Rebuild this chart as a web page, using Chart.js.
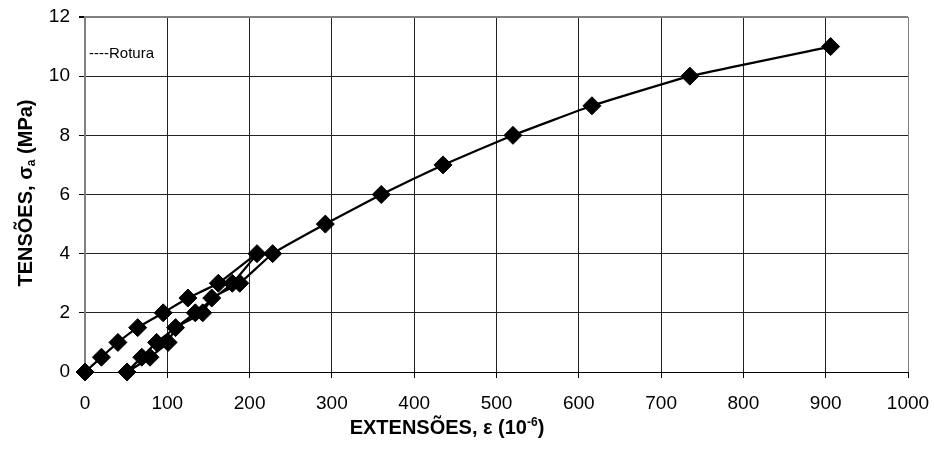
<!DOCTYPE html>
<html>
<head>
<meta charset="utf-8">
<script src="https://cdn.jsdelivr.net/npm/chart.js@4.4.0/dist/chart.umd.min.js"></script>
<style>
  html, body { margin: 0; padding: 0; background: #fff; }
  #wrap { width: 934px; height: 455px; position: relative; }
</style>
</head>
<body>
<div id="wrap"><canvas id="grafico"></canvas></div>
<script>
// Ensaio: carga, descarga e recarga até à rotura
const extensoes = [0, 20, 40, 64, 95, 125, 162, 209, 179, 134, 87, 69, 51,
                   79, 101, 110, 143, 154, 188, 228, 292, 360, 435, 520, 616, 735, 906];
const tensoes   = [0, 0.5, 1, 1.5, 2, 2.5, 3, 4, 3, 2, 1, 0.5, 0,
                   0.5, 1, 1.5, 2, 2.5, 3, 4, 5, 6, 7, 8, 9, 10, 11];
const legenda = '----Rotura';
const tituloX = ['EXTENSÕES, ε (10', '-6', ')'];
const tituloY = ['TENSÕES, σ', 'a', ' (MPa)'];

const FONTE = '"Liberation Sans", Arial, sans-serif';

// desenha texto com expoente / índice
function textoRico(c, partes, cx, cy) {
  let w = 0;
  partes.forEach(p => { c.font = p.f; w += c.measureText(p.t).width; });
  let x = cx - w / 2;
  partes.forEach(p => {
    c.font = p.f;
    c.fillText(p.t, x, cy + p.dy);
    x += c.measureText(p.t).width;
  });
}

const textos = {
  id: 'textos',
  afterDraw(chart) {
    const c = chart.ctx;
    const area = chart.chartArea;
    c.save();
    c.fillStyle = '#000';
    c.textAlign = 'left';
    c.textBaseline = 'alphabetic';

    // legenda dentro da área do gráfico
    c.font = '15px ' + FONTE;
    c.fillText(legenda, area.left + 4, area.top + 41);

    // título do eixo x
    textoRico(c, [
      { t: tituloX[0], f: 'bold 20px ' + FONTE, dy: 0 },
      { t: tituloX[1], f: 'bold 12px ' + FONTE, dy: -8 },
      { t: tituloX[2], f: 'bold 20px ' + FONTE, dy: 0 }
    ], 447, 434);

    // título do eixo y (rodado)
    c.translate(32, 193);
    c.rotate(-Math.PI / 2);
    textoRico(c, [
      { t: tituloY[0], f: 'bold 20px ' + FONTE, dy: 0 },
      { t: tituloY[1], f: 'bold 12px ' + FONTE, dy: 3 },
      { t: tituloY[2], f: 'bold 20px ' + FONTE, dy: 0 }
    ], 0, 0);
    c.restore();
  }
};

const ctx = document.getElementById('grafico').getContext('2d');

new Chart(ctx, {
  type: 'scatter',
  data: {
    datasets: [{
      data: extensoes.map((x, i) => ({ x: x, y: tensoes[i] })),
      showLine: true,
      clip: false,
      borderColor: '#000',
      borderWidth: 2.2,
      tension: 0.1,
      pointStyle: 'rectRot',
      pointRadius: 9,
      pointHoverRadius: 9,
      pointBackgroundColor: '#000',
      pointBorderColor: '#000',
      pointBorderWidth: 1
    }]
  },
  options: {
    responsive: true,
    maintainAspectRatio: false,
    animation: false,
    layout: { padding: { left: 0, top: 17, right: 26, bottom: 0 } },
    plugins: {
      legend: { display: false },
      tooltip: { enabled: false }
    },
    scales: {
      x: {
        type: 'linear',
        min: 0,
        max: 1000,
        afterFit: s => { s.height = 83; s.paddingLeft = 0; s.paddingRight = 0; },
        grid: {
          color: c => c.tick && c.tick.value === 1000 ? '#808080' : '#222',
          tickColor: '#000',
          tickLength: 6
        },
        border: { color: '#000', width: 1 },
        ticks: {
          stepSize: 100,
          color: '#000',
          padding: 14,
          maxRotation: 0,
          callback: v => String(v),
          font: { family: FONTE, size: 19 }
        }
      },
      y: {
        min: 0,
        max: 12,
        afterFit: s => { s.width = 85; s.paddingTop = 0; s.paddingBottom = 0; },
        grid: {
          color: c => c.tick && c.tick.value === 12 ? '#808080' : '#222',
          lineWidth: c => c.tick && c.tick.value === 12 ? 2 : 1,
          tickColor: '#000',
          tickLength: 6
        },
        border: { color: '#808080', width: 2 },
        ticks: {
          stepSize: 2,
          color: '#000',
          padding: 9,
          callback: v => String(v),
          font: { family: FONTE, size: 19 }
        }
      }
    }
  },
  plugins: [textos]
});
</script>
</body>
</html>
